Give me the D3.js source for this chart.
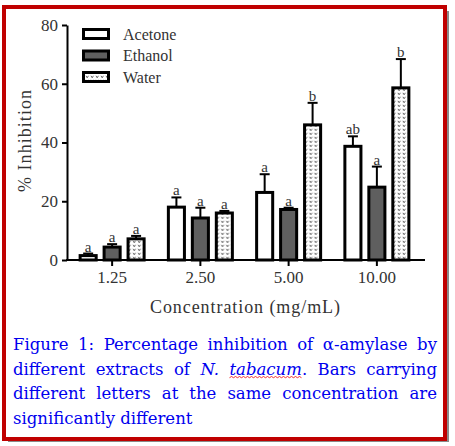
<!DOCTYPE html>
<html>
<head>
<meta charset="utf-8">
<script src="https://cdn.jsdelivr.net/npm/d3@7"></script>
<style>
  body { margin: 0; background: #fff; }
  svg { display: block; }
  svg text { font-family: "Liberation Serif", "Times New Roman", serif; }
  svg text.cap { font-family: "DejaVu Serif", serif; }
</style>
</head>
<body>
<svg id="chart"></svg>
<script>
// chart values
const categories = ["1.25", "2.50", "5.00", "10.00"];
const series = ["Acetone", "Ethanol", "Water"];
const acetone = [1.5, 18.0, 23.0, 38.7];
const ethanol = [4.4, 14.3, 17.2, 24.8];
const water = [7.2, 16.0, 46.0, 58.6];
const acetoneErr = [0.7, 3.3, 6.2, 3.4];
const ethanolErr = [1.0, 3.5, 0.6, 7.0];
const waterErr = [1.0, 0.7, 7.5, 9.8];
const acetoneLetters = ["a", "a", "a", "ab"];
const ethanolLetters = ["a", "a", "a", "a"];
const waterLetters = ["a", "a", "b", "b"];
const yTicks = [0, 20, 40, 60, 80];

const captionLines = [
  "Figure 1: Percentage inhibition of α-amylase by",
  "different extracts of _N._ _tabacum_. Bars carrying",
  "different letters at the same concentration are",
  "significantly different"
];

const W = 455, H = 446;

const svg = d3.select("#chart").attr("width", W).attr("height", H);

// frame with drop shadow
svg.append("rect").attr("x", 8).attr("y", 11).attr("width", 441).attr("height", 431).attr("fill", "#8a8a8a");
svg.append("rect").attr("x", 4).attr("y", 7).attr("width", 441).attr("height", 432)
  .attr("fill", "#fff").attr("stroke", "#c00000").attr("stroke-width", 4);

// water hatch pattern
const defs = svg.append("defs");
const pat = defs.append("pattern").attr("id", "waterPat")
  .attr("patternUnits", "userSpaceOnUse").attr("width", 5).attr("height", 4);
pat.append("rect").attr("width", 5).attr("height", 4).attr("fill", "#fff");
pat.append("path").attr("d", "M1,0.8 L2.2,2.8 L3.4,0.8").attr("fill", "none")
  .attr("stroke", "#555").attr("stroke-width", 0.9);

const fills = { Acetone: "#fff", Ethanol: "#5f5f5f", Water: "url(#waterPat)" };

const rows = categories.map((c, i) => ({
  cat: c,
  vals: [
    { s: "Acetone", v: acetone[i], e: acetoneErr[i], l: acetoneLetters[i] },
    { s: "Ethanol", v: ethanol[i], e: ethanolErr[i], l: ethanolLetters[i] },
    { s: "Water", v: water[i], e: waterErr[i], l: waterLetters[i] }
  ]
}));

const y = d3.scaleLinear().domain([0, 80]).range([260, 25]);
const x0 = d3.scaleBand().domain(categories).range([68, 421]);
const x1 = d3.scaleBand().domain(series).range([-36, 36]).paddingInner(0.33).paddingOuter(0.167);

const g = svg.append("g");

// bars
const grp = g.selectAll(".grp").data(rows).enter().append("g")
  .attr("transform", d => `translate(${x0(d.cat) + x0.bandwidth() / 2},0)`);

grp.selectAll("line.err").data(d => d.vals).enter().append("line")
  .attr("x1", d => x1(d.s) + x1.bandwidth() / 2)
  .attr("x2", d => x1(d.s) + x1.bandwidth() / 2)
  .attr("y1", d => y(d.v)).attr("y2", d => y(d.v + d.e))
  .attr("stroke", "#000").attr("stroke-width", 2);

grp.selectAll("line.cap").data(d => d.vals).enter().append("line")
  .attr("x1", d => x1(d.s) + x1.bandwidth() / 2 - 5)
  .attr("x2", d => x1(d.s) + x1.bandwidth() / 2 + 5)
  .attr("y1", d => y(d.v + d.e)).attr("y2", d => y(d.v + d.e))
  .attr("stroke", "#000").attr("stroke-width", 2);

grp.selectAll("rect").data(d => d.vals).enter().append("rect")
  .attr("x", d => x1(d.s))
  .attr("y", d => y(d.v))
  .attr("width", x1.bandwidth())
  .attr("height", d => y(0) - y(d.v))
  .attr("fill", d => fills[d.s])
  .attr("stroke", "#000").attr("stroke-width", 3);

grp.selectAll("text").data(d => d.vals).enter().append("text")
  .attr("x", d => x1(d.s) + x1.bandwidth() / 2)
  .attr("y", d => y(d.v + d.e) - 2)
  .attr("text-anchor", "middle")
  .style("font-size", "15px").attr("fill", "#333")
  .text(d => d.l);

// y axis
const yAxis = g.append("g").attr("transform", "translate(67,0)")
  .call(d3.axisLeft(y).tickValues(yTicks).tickSize(5).tickSizeOuter(0));
yAxis.select(".domain").attr("stroke-width", 2);
yAxis.selectAll(".tick line").attr("stroke-width", 2);
yAxis.selectAll(".tick text").style("font-size", "17px").attr("fill", "#333").attr("dx", -1);

// x axis
const xAxis = g.append("g").attr("transform", "translate(0,260)")
  .call(d3.axisBottom(x0).tickSize(6).tickSizeOuter(0));
xAxis.select(".domain").remove();
xAxis.append("line").attr("x1", 66).attr("x2", 425).attr("stroke", "#000").attr("stroke-width", 2);
xAxis.selectAll(".tick line").attr("stroke-width", 2);
xAxis.selectAll(".tick text").style("font-size", "17px").attr("fill", "#333").attr("y", 23).attr("dy", 0);

// axis titles
svg.append("text").attr("transform", "translate(31,141) rotate(-90)")
  .attr("text-anchor", "middle").style("font-size", "18px").attr("fill", "#333")
  .attr("textLength", 102).attr("lengthAdjust", "spacing")
  .text("% Inhibition");
svg.append("text").attr("x", 245).attr("y", 313)
  .attr("text-anchor", "middle").style("font-size", "18px").attr("fill", "#333")
  .attr("textLength", 190).attr("lengthAdjust", "spacing")
  .text("Concentration (mg/mL)");

// legend
const leg = svg.append("g").selectAll("g").data(series).enter().append("g")
  .attr("transform", (d, i) => `translate(0,${i * 21.5})`);
leg.append("rect").attr("x", 83.5).attr("y", 29.5).attr("width", 25).attr("height", 9)
  .attr("fill", d => fills[d]).attr("stroke", "#000").attr("stroke-width", 3);
leg.append("text").attr("x", 123).attr("y", 39.5)
  .style("font-size", "16px").attr("fill", "#333").text(d => d);

// caption, justified word by word
const capX0 = 13, capX1 = 437, capY = 350, capLH = 24.7;
captionLines.forEach((line, li) => {
  const words = line.split(" ").map(w => {
    const t = svg.append("text").attr("class", "cap").attr("y", capY + li * capLH)
      .style("font-size", "16.5px").attr("fill", "#0000ee");
    w.split("_").forEach((seg, k) => {
      if (seg) t.append("tspan").attr("font-style", k % 2 ? "italic" : "normal").text(seg);
    });
    return t;
  });
  const widths = words.map(t => t.node().getComputedTextLength());
  const total = d3.sum(widths);
  const last = li === captionLines.length - 1;
  const gap = last ? 5 : (capX1 - capX0 - total) / (words.length - 1);
  let cx = capX0;
  words.forEach((t, k) => { t.attr("x", cx); cx += widths[k] + gap; });
});

// spell-check squiggle under "tabacum"
svg.selectAll("tspan").filter(function () { return this.textContent === "tabacum"; }).each(function () {
  const b = this.getBBox();
  const by = capY + capLH + 3;
  let d = `M${b.x},${by}`;
  for (let px = b.x + 2, up = true; px <= b.x + b.width; px += 2, up = !up) d += ` L${px},${by + (up ? -1.2 : 0)}`;
  svg.append("path").attr("d", d).attr("fill", "none").attr("stroke", "#e00").attr("stroke-width", 0.8);
});
</script>
</body>
</html>
